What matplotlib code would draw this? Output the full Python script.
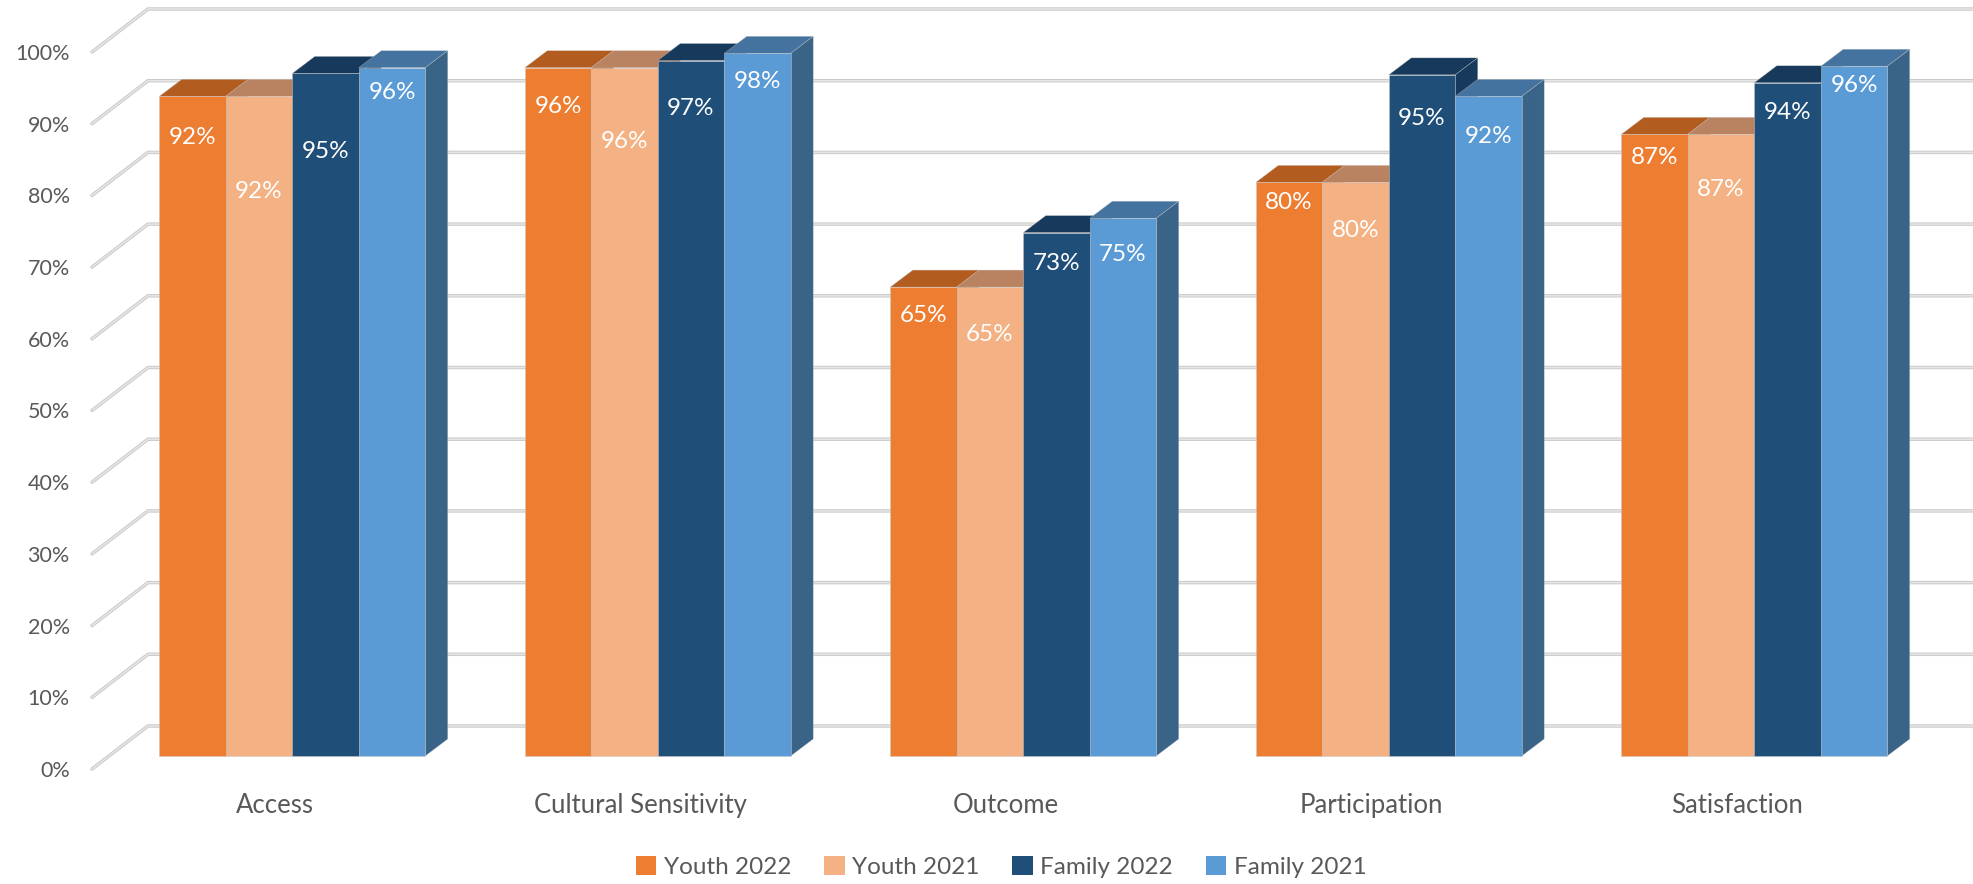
import matplotlib
matplotlib.use("Agg")
import matplotlib.pyplot as plt
from matplotlib.patches import Patch

plt.rcParams['font.family'] = ['Lato', 'DejaVu Sans']

categories = ["Access", "Cultural Sensitivity", "Outcome", "Participation", "Satisfaction"]
series_names = ["Youth 2022", "Youth 2021", "Family 2022", "Family 2021"]
youth_2022 = [92, 96, 65.4, 80, 86.7]
youth_2021 = [92, 96, 65.4, 80, 86.7]
family_2022 = [95.2, 97, 73, 95, 93.9]
family_2021 = [96, 98, 75, 92, 96.2]
series_values = [youth_2022, youth_2021, family_2022, family_2021]
y_ticks = list(range(0, 101, 10))

front_colors = ["#ED7D31", "#F4B183", "#1F4E79", "#5B9BD5"]
top_colors = ["#B35C20", "#B98260", "#173A5C", "#44739F"]
side_colors = ["#B35C20", "#B98260", "#173A5C", "#3A6487"]
label_drop_px = [[41, 95, 78, 25],
                 [39, 74, 48, 28],
                 [28, 47, 31, 36],
                 [20, 48, 44, 40],
                 [23, 55, 30, 19]]

W, H = 1974, 884
fig = plt.figure(figsize=(W / 100, H / 100), dpi=100, facecolor="white")
ax = fig.add_axes([92 / W, 1 - 769 / H, 1827.5 / W, 717 / H])
ax.set_xlim(-0.5, 4.5)
ax.set_ylim(0, 100)
px_x = 1 / 365.5
px_y = 100 / 717

wall_dx, wall_dy = 56 * px_x, 43 * px_y
bar_dx0, bar_dy0 = 17.5 * px_x, 13 * px_y
depth_x, depth_y = 22.5 * px_x, 17 * px_y
bar_w = 66.5 * px_x

for t in y_ticks:
    xs = [-0.5, -0.5 + wall_dx, 4.5 + wall_dx]
    ys = [t, t + wall_dy, t + wall_dy]
    ax.plot(xs, ys, color="#cacaca", lw=2.5, solid_capstyle="round", solid_joinstyle="miter",
            clip_on=False, zorder=1)
    ax.plot(xs, ys, color="#e6e6e6", lw=1.1, solid_capstyle="round", solid_joinstyle="miter",
            clip_on=False, zorder=1.1)

outline = (0.78, 0.78, 0.78, 0.55)
z = 2
for i in range(len(categories)):
    left = i - 2 * bar_w + bar_dx0
    for s, vals in enumerate(series_values):
        v = vals[i]
        x0 = left + s * bar_w
        x1 = x0 + bar_w
        b = bar_dy0
        # top face
        ax.fill([x0, x1, x1 + depth_x, x0 + depth_x],
                [v + b, v + b, v + b + depth_y, v + b + depth_y],
                facecolor=top_colors[s], edgecolor=outline, lw=0.4, clip_on=False, zorder=z)
        # right side face
        ax.fill([x1, x1 + depth_x, x1 + depth_x, x1],
                [b, b + depth_y, v + b + depth_y, v + b],
                facecolor=side_colors[s], edgecolor=outline, lw=0.4, clip_on=False, zorder=z)
        # front face
        ax.bar(x0, v, width=bar_w, bottom=b, align="edge", color=front_colors[s],
               edgecolor=outline, linewidth=0.6, clip_on=False, zorder=z + 0.5)
        ax.text(x0 + bar_w / 2, v + b - label_drop_px[i][s] * px_y, f"{v:.0f}%",
                ha="center", va="center", color="white", fontsize=17.5, zorder=z + 0.6)
        z += 1

for side in ax.spines.values():
    side.set_visible(False)
ax.set_yticks(y_ticks)
ax.set_yticklabels([f"{t}%" for t in y_ticks])
ax.set_xticks(range(len(categories)))
ax.set_xticklabels(categories)
ax.tick_params(axis="y", length=0, labelsize=15.5, labelcolor="#595959", pad=16)
ax.tick_params(axis="x", length=0, labelsize=18.5, labelcolor="#595959", pad=17)
ax.patch.set_alpha(0)

handles = [Patch(facecolor=c, edgecolor="none") for c in front_colors]
fig.legend(handles, series_names, loc="center", bbox_to_anchor=(1001 / W, 1 - 867 / H),
           ncol=4, frameon=False, fontsize=17.5, labelcolor="#595959",
           handlelength=0.85, handleheight=0.85, handletextpad=0.3, columnspacing=1.35)

fig.savefig("out.png", dpi=100, facecolor="white")
